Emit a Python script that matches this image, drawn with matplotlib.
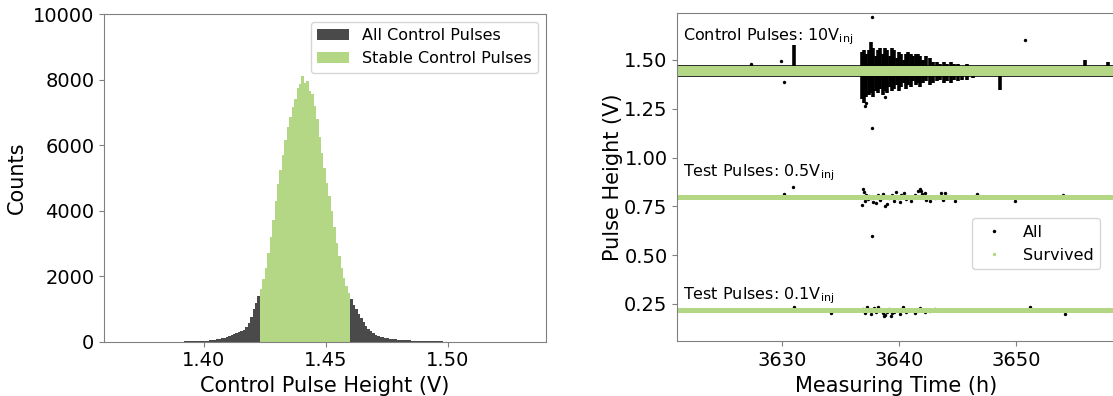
import numpy as np
import matplotlib.pyplot as plt
from matplotlib.lines import Line2D

plt.rcParams['font.family'] = 'DejaVu Sans'
plt.rcParams['mathtext.fontset'] = 'dejavusans'

# ---- control pulse height histogram (bins of 1 mV starting at 1.385 V) ----
bin_start = 1.385
bin_width = 0.001
all_counts = [
    2, 2, 3, 3, 4, 5, 6, 7, 8, 10,
    12, 14, 17, 20, 24, 29, 35, 42, 50, 60,
    72, 86, 102, 120, 145, 170, 200, 230, 260, 290,
    320, 370, 440, 560, 760, 1000, 1180, 1390, 1600, 1900,
    2250, 2700, 3200, 3700, 4300, 4800, 5250, 5700, 6150, 6550,
    6850, 7150, 7400, 7750, 7850, 8100, 7900, 7950, 7650, 7550,
    7200, 6800, 6250, 5750, 5300, 4850, 4450, 4000, 3500, 3000,
    2600, 2250, 1950, 1700, 1500, 1300, 1130, 990, 850, 720,
    600, 490, 400, 320, 260, 210, 175, 150, 130, 115,
    100, 90, 81, 73, 66, 59, 53, 47, 42, 37,
    33, 29, 26, 23, 20, 17, 15, 13, 11, 10,
    9, 8, 7, 6, 5, 5, 4, 4, 3, 3,
    2, 2, 2, 1, 1,
]
stable_window = (1.423, 1.460)

# ---- pulse height vs. time ----
time_start, time_end = 3621.0, 3658.4

# visual extent of the survived (green) bands and the full (black) band
ctrl_survived = (1.419, 1.469)
ctrl_all = (1.413, 1.475)
tp05_survived = (0.781, 0.810)
tp01_survived = (0.202, 0.228)

# unstable bursts of the control pulses: time, lowest and highest value
burst_t = [3631.0, 3636.8, 3637.0, 3637.2, 3637.4, 3637.6, 3637.8, 3638.0, 3638.2,
           3638.4, 3638.6, 3638.8, 3639.0, 3639.2, 3639.4, 3639.6, 3639.8, 3640.0,
           3640.2, 3640.4, 3640.6, 3640.8, 3641.0, 3641.2, 3641.4, 3641.6, 3641.8,
           3642.0, 3642.3, 3642.6, 3642.9, 3643.2, 3643.5, 3643.8, 3644.1, 3644.4,
           3644.7, 3645.0, 3645.4, 3645.8, 3646.3, 3648.6, 3655.9, 3657.9]
burst_top = [1.577, 1.54, 1.55, 1.53, 1.55, 1.59, 1.56, 1.52, 1.55,
             1.56, 1.53, 1.56, 1.55, 1.52, 1.56, 1.55, 1.51, 1.54,
             1.53, 1.50, 1.53, 1.54, 1.53, 1.52, 1.53, 1.53, 1.52,
             1.50, 1.52, 1.51, 1.49, 1.49, 1.48, 1.49, 1.48, 1.49,
             1.48, 1.48, 1.47, 1.48, 1.47, 1.45, 1.50, 1.49]
burst_bot = [1.43, 1.30, 1.28, 1.31, 1.32, 1.33, 1.31, 1.34, 1.33,
             1.35, 1.32, 1.34, 1.33, 1.36, 1.34, 1.35, 1.37, 1.34,
             1.36, 1.38, 1.35, 1.37, 1.36, 1.39, 1.37, 1.38, 1.36,
             1.38, 1.39, 1.37, 1.38, 1.39, 1.40, 1.38, 1.39, 1.38,
             1.40, 1.39, 1.40, 1.40, 1.41, 1.345, 1.43, 1.43]

# isolated pulses outside the bands
ctrl_pts_t = [3629.85, 3630.1, 3637.65, 3637.7, 3650.75, 3637.1, 3637.15, 3638.8,
              3627.3]
ctrl_pts_v = [1.495, 1.387, 1.722, 1.153, 1.600, 1.264, 1.282, 1.309,
              1.478]

tp05_t = [3630.95, 3630.14, 3636.87, 3637.02, 3637.16, 3637.30, 3636.82, 3637.07,
          3637.45, 3637.59, 3637.73, 3637.88, 3638.02, 3638.16, 3638.39, 3638.59,
          3638.79, 3638.97, 3639.17, 3639.37, 3639.54, 3639.74, 3639.88, 3640.03,
          3640.17, 3640.40, 3640.60, 3640.80, 3641.03, 3641.37, 3641.60, 3641.77,
          3641.95, 3642.18, 3642.32, 3642.61, 3643.04, 3643.61, 3643.75, 3644.04,
          3637.68, 3646.7, 3649.9, 3654.0, 3641.9, 3643.9, 3644.75]
tp05_v = [0.849, 0.813, 0.840, 0.823, 0.810, 0.789, 0.759, 0.776,
          0.801, 0.793, 0.772, 0.796, 0.767, 0.806, 0.784, 0.813,
          0.753, 0.764, 0.793, 0.806, 0.779, 0.823, 0.793, 0.772,
          0.806, 0.817, 0.789, 0.796, 0.776, 0.806, 0.827, 0.840,
          0.813, 0.817, 0.784, 0.779, 0.793, 0.817, 0.784, 0.801,
          0.596, 0.812, 0.780, 0.810, 0.827, 0.818, 0.779]

tp01_t = [3636.87, 3637.07, 3637.25, 3637.45, 3637.59, 3637.82, 3638.02, 3638.22,
          3638.39, 3638.59, 3638.79, 3638.97, 3639.17, 3639.37, 3639.60, 3639.83,
          3640.03, 3640.31, 3640.60, 3640.89, 3641.32, 3641.75, 3642.18, 3642.61,
          3643.04, 3631.0, 3634.15, 3638.7, 3639.3, 3651.2, 3654.2]
tp01_v = [0.223, 0.206, 0.233, 0.219, 0.199, 0.228, 0.211, 0.236,
          0.219, 0.202, 0.192, 0.211, 0.223, 0.202, 0.209, 0.219,
          0.199, 0.233, 0.211, 0.219, 0.206, 0.228, 0.211, 0.216,
          0.223, 0.235, 0.202, 0.186, 0.190, 0.234, 0.201]

dark = '#4a4a4a'
green = '#b3d785'
spine_gray = '#808080'

fig = plt.figure(figsize=(11.13, 3.96), dpi=100)
ax1 = fig.add_axes([104 / 1113, 1 - 341.7 / 396, 442 / 1113, 327.7 / 396])
ax2 = fig.add_axes([677.3 / 1113, 1 - 341.3 / 396, 436.7 / 1113, 328.6 / 396])

# left: histogram
counts = np.array(all_counts, dtype=float)
edges = bin_start + bin_width * np.arange(len(counts) + 1)
ax1.stairs(counts, edges, fill=True, color=dark, label='All Control Pulses')
keep = (edges[:-1] >= stable_window[0] - 1e-9) & (edges[1:] <= stable_window[1] + 1e-9)
idx = np.where(keep)[0]
ax1.stairs(counts[idx], edges[idx[0]:idx[-1] + 2], fill=True, color=green,
           label='Stable Control Pulses')
ax1.set_xlim(1.3592, 1.5401)
ax1.set_ylim(0, 10000)
ax1.set_xticks([1.40, 1.45, 1.50])
ax1.set_yticks([0, 2000, 4000, 6000, 8000, 10000])
ax1.set_xlabel('Control Pulse Height (V)', fontsize=15)
ax1.set_ylabel('Counts', fontsize=15)
ax1.legend(loc='upper right', fontsize=11.5)

# right: pulse heights over time
span = [time_start, time_end]
ax2.fill_between(span, ctrl_all[0], ctrl_all[1], color='#303030', lw=0, zorder=1)
ax2.vlines(burst_t, burst_bot, burst_top, color='black', lw=2.6, zorder=1)
ax2.scatter(ctrl_pts_t, ctrl_pts_v, s=6, color='black', lw=0, zorder=1)
ax2.scatter(tp05_t, tp05_v, s=6, color='black', lw=0, zorder=1)
ax2.scatter(tp01_t, tp01_v, s=6, color='black', lw=0, zorder=1)
for lo, hi in [ctrl_survived, tp05_survived, tp01_survived]:
    ax2.fill_between(span, lo, hi, color=green, lw=0, zorder=2)

ax2.set_xlim(time_start, time_end)
ax2.set_ylim(0.0589, 1.7423)
ax2.set_xticks([3630, 3640, 3650])
ax2.set_yticks([0.25, 0.50, 0.75, 1.00, 1.25, 1.50])
ax2.set_xlabel('Measuring Time (h)', fontsize=15)
ax2.set_ylabel('Pulse Height (V)', fontsize=15, labelpad=1)

ax2.text(3621.5, 1.599, r'Control Pulses: 10V$_{\mathrm{inj}}$', fontsize=11.5)
ax2.text(3621.5, 0.9025, r'Test Pulses: 0.5V$_{\mathrm{inj}}$', fontsize=11.5)
ax2.text(3621.5, 0.2756, r'Test Pulses: 0.1V$_{\mathrm{inj}}$', fontsize=11.5)

handles = [Line2D([], [], ls='none', marker='o', ms=2.5, color='black', mew=0),
           Line2D([], [], ls='none', marker='o', ms=2.5, color=green, mew=0)]
ax2.legend(handles, ['All', 'Survived'], loc='upper left',
           bbox_to_anchor=(0.674, 0.374), borderaxespad=0, fontsize=11.5)

for ax in (ax1, ax2):
    for sp in ax.spines.values():
        sp.set_color(spine_gray)
    ax.tick_params(labelsize=14, color=spine_gray)

fig.savefig('out.png', dpi=100)
